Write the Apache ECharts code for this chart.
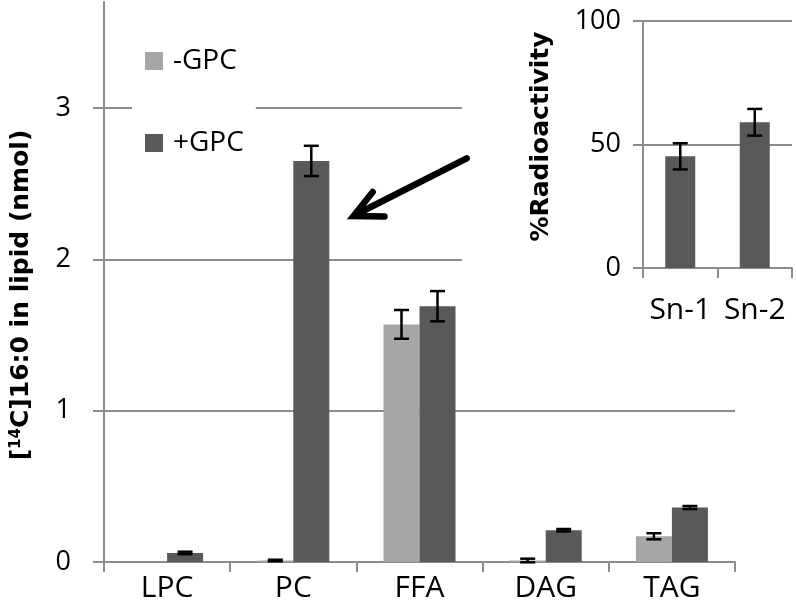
<!DOCTYPE html>
<html>
<head>
<meta charset="utf-8">
<script src="https://cdn.jsdelivr.net/npm/echarts@6/dist/echarts.min.js"></script>
<style>html,body{margin:0;padding:0;background:#fff}#c{width:796px;height:612px}</style>
</head>
<body>
<div id="c"></div>
<script>
// ---- main chart data ----
const categories = ['LPC', 'PC', 'FFA', 'DAG', 'TAG'];
const minusGPC = [null, 0.01, 1.57, 0.01, 0.17];
const plusGPC = [0.06, 2.65, 1.69, 0.21, 0.36];
const minusGPCErr = [null, 0.005, 0.095, 0.012, 0.02];
const plusGPCErr = [0.008, 0.1, 0.1, 0.008, 0.01];
const mainTicks = [0, 1, 2, 3];

// ---- inset data ----
const insetCategories = ['Sn-1', 'Sn-2'];
const insetValues = [45.2, 59];
const insetErr = [5.3, 5.4];
const insetTicks = [0, 50, 100];

const GRAY = '#8c8c8c';
const LIGHT = '#a6a6a6';
const DARK = '#595959';
const LABEL_FONT = '"Open Sans", "Noto Sans", sans-serif';
const TITLE_FONT = '"DejaVu Sans", sans-serif';
const MAIN_BAR_W = 36;
const INSET_BAR_W = 30;

function errSeries(vals, errs, offset, xi, yi) {
  const data = [];
  vals.forEach((v, i) => {
    if (v !== null && errs[i] !== null) data.push([i, v, errs[i]]);
  });
  return {
    type: 'custom',
    xAxisIndex: xi, yAxisIndex: yi,
    z: 6,
    silent: true,
    data: data,
    renderItem: function (params, api) {
      const i = api.value(0), v = api.value(1), e = api.value(2);
      const top = api.coord([i, v + e]);
      const bot = api.coord([i, v - e]);
      const x = top[0] + offset;
      const hw = 7.5;
      const st = { stroke: '#000', lineWidth: 2.5 };
      return {
        type: 'group',
        children: [
          { type: 'line', shape: { x1: x, y1: top[1], x2: x, y2: bot[1] }, style: st },
          { type: 'line', shape: { x1: x - hw, y1: top[1], x2: x + hw, y2: top[1] }, style: st },
          { type: 'line', shape: { x1: x - hw, y1: bot[1], x2: x + hw, y2: bot[1] }, style: st }
        ]
      };
    }
  };
}

const chart = echarts.init(document.getElementById('c'), null, { renderer: 'canvas' });

const option = {
  backgroundColor: '#fff',
  animation: false,
  legend: {
    data: ['-GPC', '+GPC'],
    orient: 'vertical',
    left: 132, top: 34,
    backgroundColor: '#fff',
    padding: [12, 12, 12, 13],
    itemWidth: 18, itemHeight: 18,
    itemGap: 52,
    icon: 'rect',
    textStyle: { fontSize: 28, fontFamily: LABEL_FONT, color: '#000', lineHeight: 30, padding: [0, 0, 0, 5] },
    z: 4
  },
  grid: [
    { left: 104, right: 61, top: 2, bottom: 50 },
    { left: 643, right: 4, top: 21, bottom: 344 }
  ],
  xAxis: [
    {
      type: 'category', gridIndex: 0, data: categories,
      axisLine: { lineStyle: { color: GRAY, width: 2 } },
      axisTick: { show: true, length: 10, lineStyle: { color: GRAY, width: 2 } },
      axisLabel: { fontSize: 30, fontFamily: LABEL_FONT, color: '#000', margin: 11, interval: 0 },
      splitLine: { show: false }
    },
    {
      type: 'category', gridIndex: 1, data: insetCategories, z: 3,
      axisLine: { lineStyle: { color: GRAY, width: 2 } },
      axisTick: { show: true, length: 10, lineStyle: { color: GRAY, width: 2 } },
      axisLabel: { fontSize: 30, fontFamily: LABEL_FONT, color: '#000', margin: 27, interval: 0, hideOverlap: false },
      splitLine: { show: false }
    }
  ],
  yAxis: [
    {
      type: 'value', gridIndex: 0, min: 0, max: 3.7, interval: 1,
      name: '[{sup|14}C]16:0 in lipid (nmol)',
      nameLocation: 'middle', nameGap: 70, nameRotate: 90,
      nameTextStyle: {
        fontSize: 25, fontWeight: 'bold', fontFamily: TITLE_FONT, color: '#000',
        padding: [0, 26, 0, 0],
        rich: {
          sup: { fontSize: 15, fontWeight: 'bold', fontFamily: TITLE_FONT, color: '#000', verticalAlign: 'top', padding: [0, 0, 10, 0] }
        }
      },
      axisLine: { show: true, lineStyle: { color: GRAY, width: 2 } },
      axisTick: { show: true, length: 11, customValues: mainTicks, lineStyle: { color: GRAY, width: 2 } },
      axisLabel: { fontSize: 27, fontFamily: LABEL_FONT, color: '#000', margin: 33, customValues: mainTicks },
      splitLine: { show: true, lineStyle: { color: GRAY, width: 2 } }
    },
    {
      type: 'value', gridIndex: 1, min: 0, max: 100, interval: 50, z: 3,
      name: '%Radioactivity',
      nameLocation: 'middle', nameGap: 89, nameRotate: 90,
      nameTextStyle: { fontSize: 25, fontWeight: 'bold', fontFamily: TITLE_FONT, color: '#000', padding: [0, 0, 0, 16] },
      axisLine: { show: true, lineStyle: { color: GRAY, width: 2 } },
      axisTick: { show: true, length: 10, lineStyle: { color: GRAY, width: 2 } },
      axisLabel: { fontSize: 27, fontFamily: LABEL_FONT, color: '#000', margin: 22 },
      splitLine: { show: true, lineStyle: { color: GRAY, width: 2 } }
    }
  ],
  graphic: [
    {
      type: 'rect', z: 1, zlevel: 0,
      shape: { x: 462, y: 0, width: 334, height: 345 },
      style: { fill: '#fff' }
    },
    {
      type: 'polyline', z: 10,
      shape: { points: [[466.7, 158.3], [356, 214.5]] },
      style: { stroke: '#000', lineWidth: 6.5, lineCap: 'round', fill: null }
    },
    {
      type: 'polyline', z: 10,
      shape: { points: [[372.7, 192], [353.5, 216], [384.5, 216.5]] },
      style: { stroke: '#000', lineWidth: 6.5, lineCap: 'round', lineJoin: 'miter', fill: null }
    }
  ],
  series: [
    {
      name: '-GPC', type: 'bar', xAxisIndex: 0, yAxisIndex: 0,
      data: minusGPC, barWidth: MAIN_BAR_W, barGap: '0%',
      itemStyle: { color: LIGHT }, z: 2
    },
    {
      name: '+GPC', type: 'bar', xAxisIndex: 0, yAxisIndex: 0,
      data: plusGPC, barWidth: MAIN_BAR_W, barGap: '0%',
      itemStyle: { color: DARK }, z: 2
    },
    errSeries(minusGPC, minusGPCErr, -MAIN_BAR_W / 2, 0, 0),
    errSeries(plusGPC, plusGPCErr, MAIN_BAR_W / 2, 0, 0),
    {
      name: 'inset', type: 'bar', xAxisIndex: 1, yAxisIndex: 1,
      data: insetValues, barWidth: INSET_BAR_W,
      itemStyle: { color: DARK }, z: 3
    },
    errSeries(insetValues, insetErr, 0, 1, 1)
  ]
};
chart.setOption(option);
</script>
</body>
</html>
